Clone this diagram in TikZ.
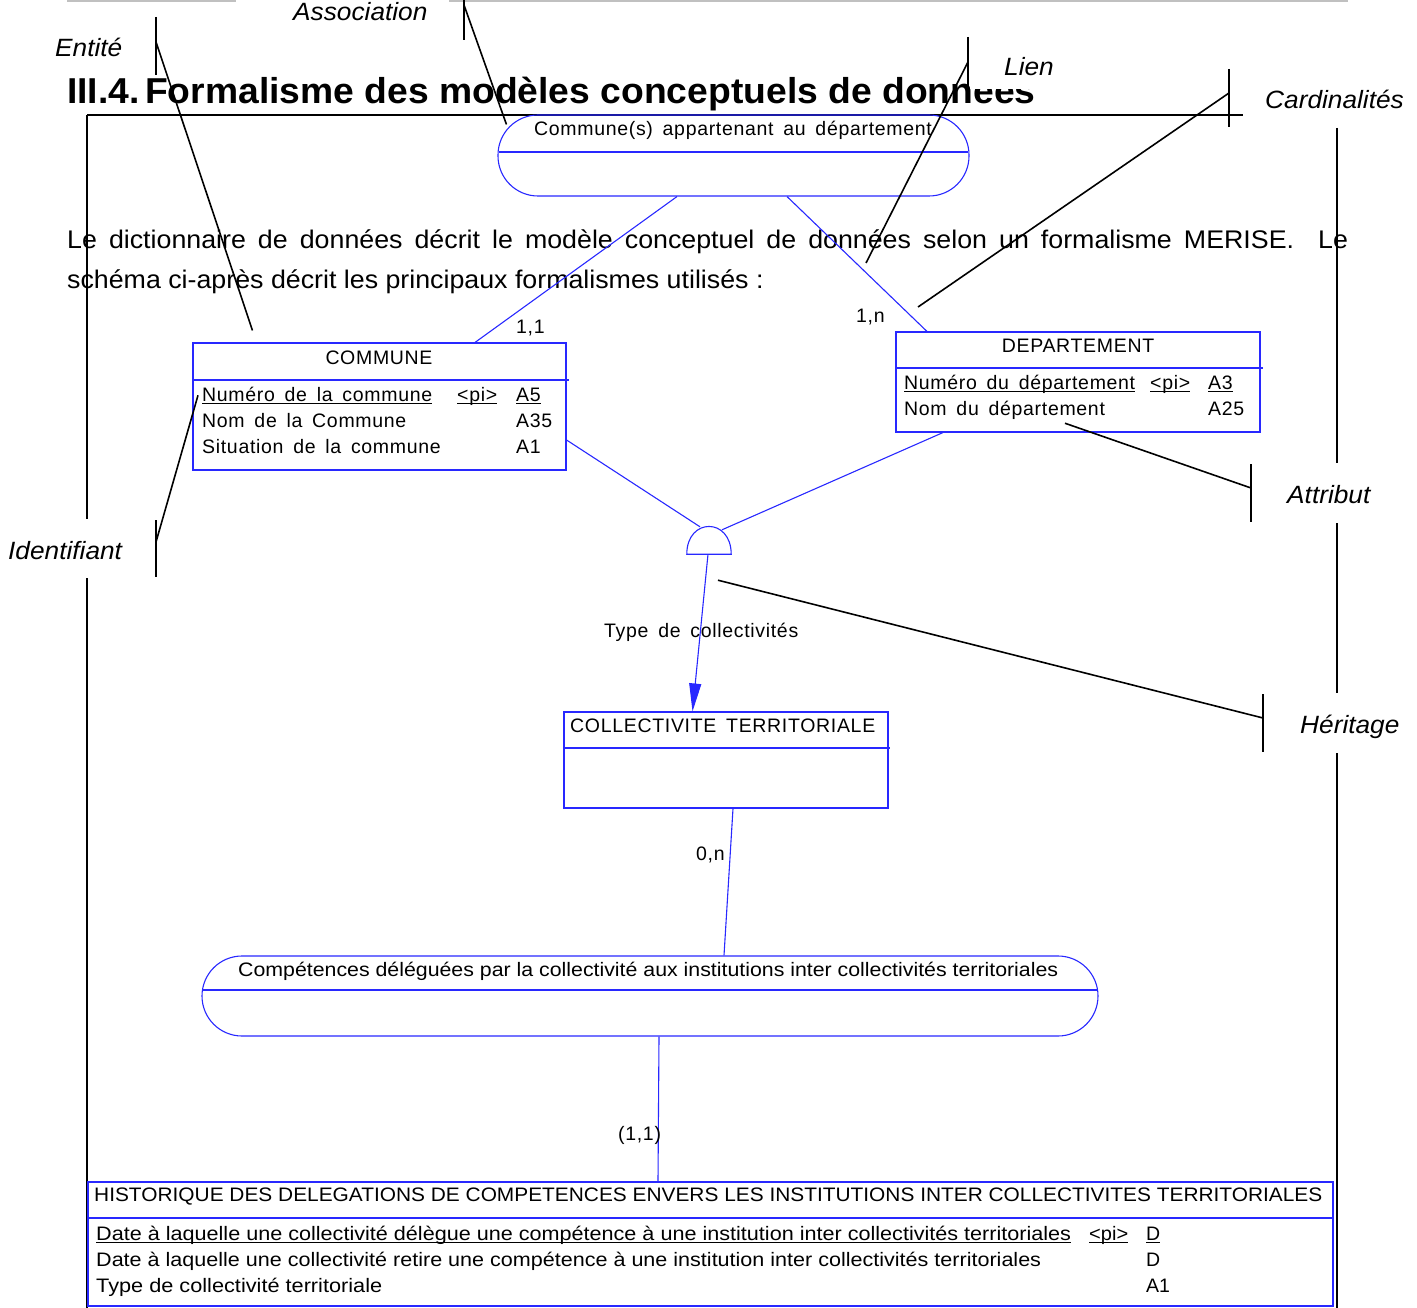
\documentclass[tikz,border=0pt]{standalone}
\usepackage{fontspec}
\usepackage{graphicx}
\setmainfont{Liberation Sans}
\newfontfamily\dgfont[LetterSpace=3.5,WordSpace=1.6]{Liberation Sans}
\newfontfamily\bodyfont[FakeStretch=1.05]{Liberation Sans}
\newfontfamily\ttlfont[FakeStretch=1.035]{Liberation Sans}
\newfontfamily\lblfont[FakeStretch=1.05]{Liberation Sans}
\usetikzlibrary{arrows.meta,calc}

\definecolor{mcdblue}{RGB}{40,40,255}
\definecolor{rulegrey}{RGB}{192,192,192}

% underline kept at a fixed distance below the baseline
\newcommand\ulw[1]{\setbox0=\hbox{#1}\rlap{\rule[-3pt]{\wd0}{1.1pt}}\box0}
% condensed text squeezed to a given width
\newcommand\fitw[2]{\resizebox{#1pt}{\height}{#2}}

\begin{document}
\begin{tikzpicture}[x=1pt,y=-1pt,
  lbl/.style={font=\lblfont\fontsize{25}{30}\selectfont\itshape, anchor=base west, inner sep=0},
  body/.style={font=\bodyfont\fontsize{25.5}{30}\selectfont, anchor=base west, inner sep=0},
  ttl/.style={font=\ttlfont\fontsize{36}{40}\selectfont\bfseries, anchor=base west, inner sep=0},
  dg/.style={font=\dgfont\fontsize{19.5}{23}\selectfont, anchor=base west, inner sep=0},
  dgc/.style={font=\fontsize{19.5}{23}\selectfont, anchor=base west, inner sep=0},
  ent/.style={draw=mcdblue, line width=1.1pt, rectangle, inner sep=0},
  assoc/.style={draw=mcdblue, line width=1.1pt, rectangle, rounded corners=40pt, inner sep=0},
  link/.style={draw=mcdblue, line width=1.1pt},
  lead/.style={draw=black, line width=1.6pt},
  framel/.style={draw=black, line width=1.8pt},
]
\useasboundingbox (0,0) rectangle (1417,1308);

% ---- page furniture: header rules, heading, paragraph
\draw[rulegrey, line width=2.5pt] (67,1) -- (236,1);
\draw[rulegrey, line width=2.5pt] (449,1) -- (1348,1);
\node[ttl] (hnum) at (67,104) {III.4.};
\node[ttl] (htxt) at (145,104) {Formalisme des modèles conceptuels de données};
\node[body] (par1) at (67,249) {\makebox[1281pt][s]{Le dictionnaire de données décrit le modèle conceptuel de données selon un formalisme MERISE.\ \ Le}};
\node[body] (par2) at (67,289) {schéma ci-après décrit les principaux formalismes utilisés :};

% ---- frame around the schema
\draw[framel] (87,115) -- (1243,115);
\draw[framel] (87,115) -- (87,519);
\draw[framel] (87,578) -- (87,1308);
\draw[framel] (1337,128) -- (1337,463);
\draw[framel] (1337,523) -- (1337,693);
\draw[framel] (1337,753) -- (1337,1308);

% ---- associations
\node[assoc, minimum width=471pt, minimum height=81pt] (a1) at (733.5,155.5) {};
\draw[link] (498.6,152) -- (968.4,152);
\node[dg, anchor=base] (a1t) at (733,136) {Commune(s) appartenant au département};

\node[assoc, minimum width=896pt, minimum height=80pt] (a2) at (650,996) {};
\draw[link] (202.5,990) -- (1097.5,990);
\node[dgc] (a2t) at (238,976) {\fitw{820}{Compétences déléguées par la collectivité aux institutions inter collectivités territoriales}};

% ---- entities
\node[ent, minimum width=373pt, minimum height=127pt] (commune) at (379.5,406.5) {};
\draw[link] (commune.west |- 0,380) -- (569,380);
\node[dg, anchor=base] (comt) at (379,364) {COMMUNE};
\node[dg] (com1) at (202,401) {\ulw{Numéro de la commune}};
\node[dg] (com1p) at (457,401) {\ulw{<pi>}};
\node[dg] (com1t) at (516,401) {\ulw{A5}};
\node[dg] (com2) at (202,427) {Nom de la Commune};
\node[dg] (com2t) at (516,427) {A35};
\node[dg] (com3) at (202,453) {Situation de la commune};
\node[dg] (com3t) at (516,453) {A1};

\node[ent, minimum width=364pt, minimum height=100pt] (dep) at (1078,382) {};
\draw[link] (dep.west |- 0,368) -- (1263,368);
\node[dg, anchor=base] (dept) at (1078,352) {DEPARTEMENT};
\node[dg] (dep1) at (904,389) {\ulw{Numéro du département}};
\node[dg] (dep1p) at (1150,389) {\ulw{<pi>}};
\node[dg] (dep1t) at (1208,389) {\ulw{A3}};
\node[dg] (dep2) at (904,415) {Nom du département};
\node[dg] (dep2t) at (1208,415) {A25};

\node[ent, minimum width=324pt, minimum height=96pt] (coll) at (726,760) {};
\draw[link] (coll.west |- 0,748) -- (890,748);
\node[dg] (collt) at (570,732) {COLLECTIVITE TERRITORIALE};

\node[ent, minimum width=1245pt, minimum height=124pt] (histo) at (710.5,1244) {};
\draw[link] (histo.west |- 0,1218) -- (histo.east |- 0,1218);
\node[dgc] (histt) at (94,1201) {\fitw{1228}{HISTORIQUE DES DELEGATIONS DE COMPETENCES ENVERS LES INSTITUTIONS INTER COLLECTIVITES TERRITORIALES}};
\node[dgc] (his1) at (96,1240) {\fitw{975}{\ulw{Date à laquelle une collectivité délègue une compétence à une institution inter collectivités territoriales}}};
\node[dgc] (his1p) at (1089,1240) {\fitw{39}{\ulw{<pi>}}};
\node[dgc] (his1t) at (1146,1240) {\ulw{D}};
\node[dgc] (his2) at (96,1266) {\fitw{945}{Date à laquelle une collectivité retire une compétence à une institution inter collectivités territoriales}};
\node[dgc] (his2t) at (1146,1266) {D};
\node[dgc] (his3) at (96,1292) {\fitw{286}{Type de collectivité territoriale}};
\node[dgc] (his3t) at (1146,1292) {A1};

% ---- inheritance symbol
\node[inner sep=0, minimum width=44pt, minimum height=28pt] (inh) at (709,540) {};
\draw[link] (inh.south west) .. controls ($(inh.south west)+(0,-37)$) and ($(inh.south east)+(0,-37)$) .. (inh.south east) -- cycle;

% ---- links
\draw[link] ($(a1.south)+(-56.5,0)$) -- ($(commune.north)+(95.5,0)$);
\draw[link] ($(a1.south)+(53.5,0)$) -- ($(dep.north)+(-151,0)$);
\draw[link] ($(commune.east)+(0,33.5)$) -- ($(inh.north)+(-9,1)$);
\draw[link] ($(dep.south)+(-135,0)$) -- ($(inh.north)+(13,4)$);
\draw[link, -{Triangle[length=28pt,width=12pt]}] ($(inh.south)+(-1,0)$) -- ($(coll.north)+(-33.5,0)$);
\draw[link] ($(coll.south)+(7,0)$) -- ($(a2.north)+(74,0)$);
\draw[link] ($(a2.south)+(9,0)$) -- ($(histo.north)+(-52.5,0)$);

\node[dg] (card1) at (516,334) {1,1};
\node[dg] (card2) at (856,322) {1,n};
\node[dg] (inhl) at (604,637) {Type de collectivités};
\node[dg] (card3) at (696,860) {0,n};
\node[dg] (card4) at (618,1140) {(1,1)};

% ---- callouts
\node[lbl] (lEnt) at (55,57) {Entité};
\coordinate (tEnt) at (156,42);
\draw[lead] (156,17) -- (156,75);
\draw[lead] (tEnt) -- ($(commune.north west)+(60,-12)$);

\node[lbl] (lAss) at (293,21) {Association};
\coordinate (tAss) at (464,5);
\draw[lead] (464,0) -- (464,40);
\draw[lead] (tAss) -- ($(a1.north west)+(9,10)$);

% the "Lien" label sits on an opaque box that hides the top of the heading
\fill[white] (970,38) rectangle (1062,89);
\node[lbl] (lLien) at (1004,76) {Lien};
\coordinate (tLien) at (968,62);
\draw[lead] (968,37) -- (968,100);
\draw[lead] (tLien) -- (866,263);

\node[lbl] (lCard) at (1265,109) {Cardinalités};
\coordinate (tCard) at (1229,93);
\draw[lead] (1229,69) -- (1229,127);
\draw[lead] (tCard) -- (918,307);

\node[lbl] (lAtt) at (1287,503) {Attribut};
\coordinate (tAtt) at (1251,488);
\draw[lead] (1251,464) -- (1251,522);
\draw[lead] (tAtt) -- ($(dep2.south west)+(161,4)$);

\node[lbl] (lHer) at (1300,733) {Héritage};
\coordinate (tHer) at (1263,718);
\draw[lead] (1263,694) -- (1263,752);
\draw[lead] (tHer) -- ($(inh.south)+(9,26)$);

\node[lbl] (lId) at (8,559) {Identifiant};
\coordinate (tId) at (156,542);
\draw[lead] (156,520) -- (156,577);
\draw[lead] (tId) -- ($(com1.west)+(-4,0)$);
\end{tikzpicture}
\end{document}
